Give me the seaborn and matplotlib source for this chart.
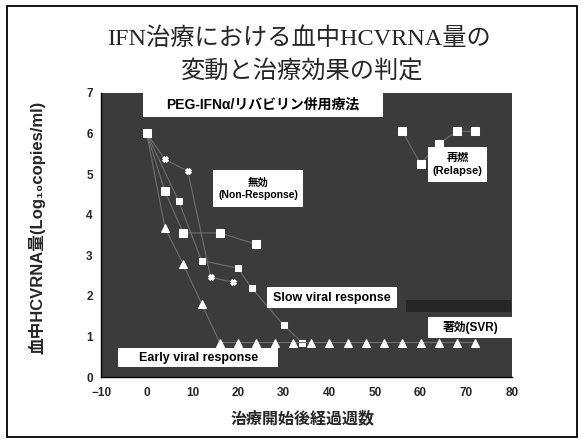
import matplotlib
matplotlib.use("Agg")
import matplotlib.pyplot as plt
from matplotlib.patches import Rectangle
import pandas as pd
import seaborn as sns

sns.set_theme(style="white")
plt.rcParams['font.family'] = ['Liberation Sans', 'Noto Sans CJK JP', 'DejaVu Sans']

# --- data (weeks after start of therapy, log10 HCV RNA) ---
weeks_evr = [0, 4, 8, 12, 16, 20, 24, 28, 32, 36, 40, 44, 48, 52, 56, 60, 64, 68, 72]
rna_evr = [6.0, 3.67, 2.78, 1.81, 0.85, 0.85, 0.85, 0.85, 0.85, 0.85, 0.85,
           0.85, 0.85, 0.85, 0.85, 0.85, 0.85, 0.85, 0.85]

weeks_slow = [0, 7, 12, 20, 23, 30, 34]
rna_slow = [6.0, 4.33, 2.87, 2.68, 2.19, 1.28, 0.85]

weeks_nr = [0, 4, 8, 16, 24]
rna_nr = [6.0, 4.57, 3.55, 3.55, 3.27]

weeks_rel_tx = [0, 4, 9, 14, 19]
rna_rel_tx = [6.0, 5.36, 5.07, 2.46, 2.33]

weeks_rel_post = [56, 60, 64, 68, 72]
rna_rel_post = [6.05, 5.25, 5.75, 6.05, 6.05]

x_ticks = [-10, 0, 10, 20, 30, 40, 50, 60, 70, 80]
y_ticks = [0, 1, 2, 3, 4, 5, 6, 7]

title_lines = ["IFN治療における血中HCVRNA量の", "変動と治療効果の判定"]
regimen = "PEG-IFNα/リバビリン併用療法"
xlabel = "治療開始後経過週数"
ylabel = "血中HCVRNA量(Log\u2081\u2080copies/ml)"

fig = plt.figure(figsize=(5.81, 4.42), dpi=100)
fig.patch.set_facecolor('white')
fig.add_artist(Rectangle((0.012, 0.011), 0.981, 0.975, transform=fig.transFigure,
                         fill=False, ec='black', lw=1.3))

ax = fig.add_axes([0.174, 0.147, 0.707, 0.643])
ax.set_facecolor('#3b3b3b')

line_col = '#6e6e6e'
series = [
    (weeks_nr, rna_nr, 's', 5.5),
    (weeks_slow, rna_slow, 's', 5.0),
    (weeks_rel_tx, rna_rel_tx, 'X', 4.0),
    (weeks_rel_post, rna_rel_post, 's', 5.5),
    (weeks_evr, rna_evr, '^', 5.5),
]
for wx, wy, mk, ms in series:
    df = pd.DataFrame({'week': wx, 'rna': wy})
    sns.lineplot(data=df, x='week', y='rna', ax=ax, color=line_col, lw=0.8,
                 marker=mk, markersize=ms, markerfacecolor='white',
                 markeredgecolor='white', sort=False, zorder=3)

ax.set_xlim(-10, 80)
ax.set_ylim(0, 7)
ax.set_xticks(x_ticks)
ax.set_yticks(y_ticks)
ax.set_xticklabels([str(v) if v >= 0 else '\u221210' for v in x_ticks],
                   fontsize=8.5, fontweight='bold')
ax.set_yticklabels([str(v) for v in y_ticks], fontsize=8.5, fontweight='bold')
ax.tick_params(axis='both', length=3, width=0.8, color='black', pad=3, direction='out')
ax.tick_params(axis='x', pad=4)
ax.set_xlabel('')
ax.set_ylabel('')
for s in ['left', 'bottom']:
    ax.spines[s].set_color('black')
    ax.spines[s].set_linewidth(1.0)
for s in ['top', 'right']:
    ax.spines[s].set_visible(False)


def label_box(x0, x1, y0, y1, text, cx, cy, size, fc='white', tc='black'):
    ax.add_patch(Rectangle((x0, y0), x1 - x0, y1 - y0, fc=fc, ec='none', zorder=4))
    ax.text(cx, cy, text, ha='center', va='center', fontsize=size,
            fontweight='bold', color=tc, zorder=5, linespacing=1.3)


label_box(-0.8, 51.8, 6.41, 7.0, regimen, 25.5, 6.70, 10)
label_box(14.6, 34.3, 4.19, 5.10, "無効\n(Non-Response)", 24.4, 4.64, 7.5)
label_box(61.7, 74.6, 4.81, 5.67, "再燃\n(Relapse)", 68.1, 5.24, 8)
label_box(26.4, 54.9, 1.70, 2.22, "Slow viral response", 40.6, 1.95, 9)
label_box(56.8, 79.8, 1.60, 1.90, "", 68, 1.75, 8, fc='#262626')
label_box(61.7, 80.0, 0.96, 1.48, "著効(SVR)", 70.9, 1.22, 8.5)
label_box(-6.3, 28.8, 0.25, 0.71, "Early viral response", 11.3, 0.48, 9)

fig.text(0.514, 0.912, title_lines[0], ha='center', va='center', fontsize=17.5,
         family=['Liberation Serif', 'Noto Sans CJK JP'])
fig.text(0.52, 0.837, title_lines[1], ha='center', va='center', fontsize=17.5,
         family=['Liberation Serif', 'Noto Sans CJK JP'])

fig.text(0.52, 0.054, xlabel, ha='center', va='center', fontsize=11.5, fontweight='bold')
fig.text(0.064, 0.486, ylabel, ha='center', va='center', rotation=90,
         fontsize=12, fontweight='bold')

fig.savefig('out.png', dpi=100, facecolor='white')
